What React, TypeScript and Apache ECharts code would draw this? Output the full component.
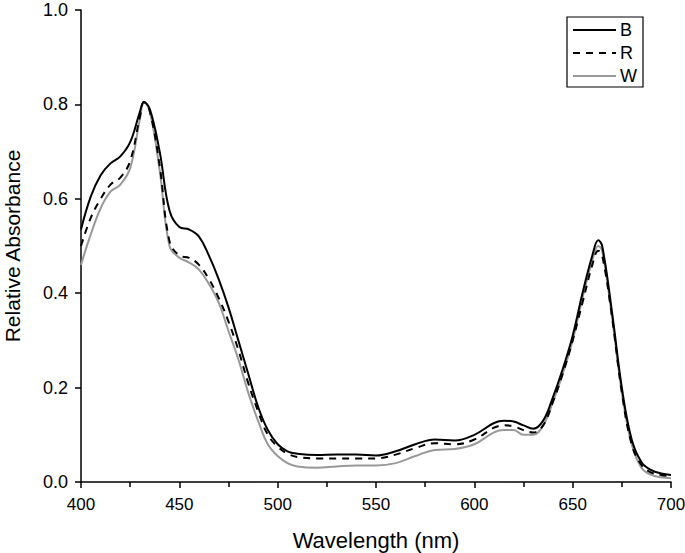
import React, { useEffect, useRef } from "react";
import * as echarts from "echarts";

const wavelengths = [400, 405, 410, 415, 420, 425, 430, 432, 435, 440, 445, 450, 455, 460, 465, 470, 475, 480, 485, 490, 495, 500, 505, 510, 520, 530, 540, 550, 560, 570, 580, 590, 600, 610, 615, 620, 625, 630, 635, 640, 645, 650, 655, 660, 663, 665, 670, 675, 680, 685, 690, 695, 700];
const seriesB = [0.535, 0.605, 0.65, 0.675, 0.69, 0.72, 0.785, 0.805, 0.79, 0.70, 0.575, 0.54, 0.535, 0.52, 0.48, 0.43, 0.37, 0.30, 0.23, 0.16, 0.11, 0.08, 0.065, 0.06, 0.057, 0.058, 0.058, 0.056, 0.065, 0.08, 0.09, 0.088, 0.10, 0.125, 0.13, 0.128, 0.12, 0.113, 0.13, 0.18, 0.24, 0.31, 0.40, 0.48, 0.512, 0.50, 0.36, 0.20, 0.09, 0.042, 0.025, 0.018, 0.015];
const seriesR = [0.50, 0.56, 0.60, 0.63, 0.645, 0.68, 0.775, 0.805, 0.785, 0.67, 0.51, 0.48, 0.475, 0.46, 0.43, 0.39, 0.34, 0.28, 0.21, 0.15, 0.10, 0.075, 0.06, 0.053, 0.05, 0.05, 0.05, 0.05, 0.058, 0.072, 0.082, 0.08, 0.09, 0.115, 0.12, 0.118, 0.11, 0.105, 0.12, 0.17, 0.23, 0.30, 0.38, 0.46, 0.49, 0.48, 0.35, 0.19, 0.08, 0.036, 0.02, 0.015, 0.012];
const seriesW = [0.46, 0.525, 0.58, 0.615, 0.63, 0.665, 0.77, 0.805, 0.785, 0.66, 0.50, 0.475, 0.465, 0.45, 0.42, 0.38, 0.32, 0.26, 0.19, 0.13, 0.08, 0.055, 0.04, 0.033, 0.03, 0.033, 0.035, 0.035, 0.04, 0.055, 0.068, 0.07, 0.08, 0.105, 0.11, 0.11, 0.10, 0.10, 0.12, 0.17, 0.23, 0.30, 0.39, 0.47, 0.50, 0.49, 0.35, 0.19, 0.08, 0.03, 0.015, 0.01, 0.008];
const legendNames = ["B", "R", "W"];

const FONT = "Liberation Sans, Arial, sans-serif";

export default function App() {
  const ref = useRef<HTMLDivElement>(null);
  useEffect(() => {
    if (!ref.current) return;
    const chart = echarts.init(ref.current, undefined, { renderer: "svg" });
    const mk = (vals: number[]) => wavelengths.map((w, i) => [w, vals[i]]);
    const styles = [
      { color: "#000000", type: "solid" as const, width: 2 },
      { color: "#000000", type: [7, 6] as any, width: 2 },
      { color: "#999999", type: "solid" as const, width: 2 },
    ];
    const datas = [seriesB, seriesR, seriesW];
    const lx = 567, ly = 17;
    const legendGraphics: any[] = [
      { type: "rect", shape: { x: lx, y: ly, width: 76, height: 70 }, style: { fill: "#fff", stroke: "#000", lineWidth: 1.2 }, z: 10 },
    ];
    legendNames.forEach((n, i) => {
      const yy = ly + 13 + i * 23;
      legendGraphics.push({
        type: "line",
        shape: { x1: lx + 6, y1: yy, x2: lx + 49, y2: yy },
        style: { stroke: styles[i].color, lineWidth: 2, lineDash: i === 1 ? [7, 6] : null },
        z: 11,
      });
      legendGraphics.push({
        type: "text",
        x: lx + 53,
        y: yy,
        style: { text: n, fill: "#000", font: `18px ${FONT}`, textVerticalAlign: "middle" },
        z: 11,
      });
    });
    chart.setOption({
      animation: false,
      grid: { left: 81, top: 10, right: 14, bottom: 71, containLabel: false, outerBoundsMode: "none" },
      xAxis: {
        type: "value",
        min: 400,
        max: 700,
        interval: 50,
        name: "Wavelength (nm)",
        nameLocation: "middle",
        nameGap: 47,
        nameTextStyle: { fontFamily: FONT, fontSize: 22, color: "#000" },
        axisLine: { onZero: false, lineStyle: { color: "#000", width: 1.5 } },
        axisTick: { inside: false, length: 6, lineStyle: { color: "#000", width: 1.5 } },
        minorTick: { show: true, splitNumber: 2, length: 5, lineStyle: { color: "#000", width: 1.5 } },
        axisLabel: { fontFamily: FONT, fontSize: 17, color: "#000", margin: 14 },
        splitLine: { show: false },
      },
      yAxis: {
        type: "value",
        min: 0,
        max: 1.0,
        interval: 0.2,
        name: "Relative Absorbance",
        nameLocation: "middle",
        nameGap: 58,
        nameTextStyle: { fontFamily: FONT, fontSize: 21, color: "#000" },
        axisLine: { show: true, lineStyle: { color: "#000", width: 1.5 } },
        axisTick: { show: true, inside: false, length: 6, lineStyle: { color: "#000", width: 1.5 } },
        axisLabel: { fontFamily: FONT, fontSize: 18, color: "#000", margin: 13, formatter: (v: number) => v.toFixed(1) },
        splitLine: { show: false },
      },
      series: datas.map((d, i) => ({
        name: legendNames[i],
        type: "line",
        data: mk(d),
        smooth: 0.4,
        showSymbol: false,
        symbol: "none",
        lineStyle: styles[i],
        z: 3 - i,
      })),
      graphic: legendGraphics,
    });
    return () => chart.dispose();
  }, []);
  return <div ref={ref} style={{ position: "absolute", left: 0, top: 0, width: 685, height: 553 }} />;
}
